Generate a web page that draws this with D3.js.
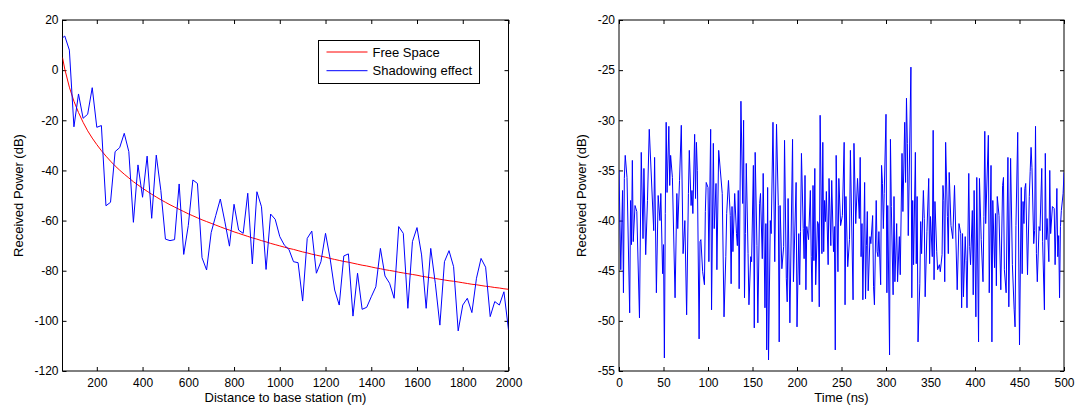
<!DOCTYPE html>
<html><head><meta charset="utf-8">
<script src="https://cdn.jsdelivr.net/npm/d3@7/dist/d3.min.js"></script>
<style>
html,body{margin:0;padding:0;background:#fff;}
svg{display:block;}
text{font-family:"Liberation Sans",Arial,Helvetica,sans-serif;fill:#000;}
</style></head>
<body>
<script>
// ---------- Left chart data ----------
const distance = [50,60,80,100,120,140,160,180,200,220,240,260,280,300,320,340,360,380,400,420,440,460,480,500,520,540,560,580,600,620,640,660,680,700,720,740,760,780,800,820,840,860,880,900,920,940,960,980,1000,1020,1040,1060,1080,1100,1120,1140,1160,1180,1200,1220,1240,1260,1280,1300,1320,1340,1360,1380,1400,1420,1440,1460,1480,1500,1520,1540,1560,1580,1600,1620,1640,1660,1680,1700,1720,1740,1760,1780,1800,1820,1840,1860,1880,1900,1920,1940,1960,1980,2000];
const freeSpace = [5.0,0.4,-6.8,-12.4,-16.9,-20.8,-24.2,-27.1,-29.7,-32.1,-34.3,-36.3,-38.2,-39.9,-41.5,-43.0,-44.5,-45.8,-47.1,-48.3,-49.5,-50.6,-51.7,-52.7,-53.7,-54.6,-55.5,-56.4,-57.3,-58.1,-58.9,-59.7,-60.4,-61.1,-61.8,-62.5,-63.2,-63.8,-64.5,-65.1,-65.7,-66.3,-66.9,-67.4,-68.0,-68.5,-69.1,-69.6,-70.1,-70.6,-71.1,-71.5,-72.0,-72.5,-72.9,-73.4,-73.8,-74.2,-74.6,-75.1,-75.5,-75.9,-76.3,-76.6,-77.0,-77.4,-77.8,-78.1,-78.5,-78.9,-79.2,-79.6,-79.9,-80.2,-80.6,-80.9,-81.2,-81.5,-81.8,-82.2,-82.5,-82.8,-83.1,-83.4,-83.7,-84.0,-84.2,-84.5,-84.8,-85.1,-85.4,-85.6,-85.9,-86.2,-86.4,-86.7,-86.9,-87.2,-87.4];
const shadowing = [12.9,13.6,8.0,-22.6,-9.5,-19.2,-17.6,-7.0,-22.8,-22.1,-54.1,-52.7,-32.5,-30.9,-25.2,-32.5,-60.7,-37.8,-50.7,-34.3,-59.1,-33.9,-48.0,-67.4,-68.0,-67.6,-45.4,-73.5,-62.0,-43.8,-45.2,-74.8,-79.7,-64.8,-58.0,-51.4,-60.5,-70.2,-53.5,-63.8,-65.1,-49.1,-77.3,-48.5,-54.5,-79.5,-57.4,-59.5,-66.4,-69.8,-71.5,-76.4,-76.8,-92.1,-67.1,-64.2,-81.0,-76.4,-65.1,-75.1,-87.7,-93.7,-74.1,-73.3,-98.1,-81.0,-95.4,-94.6,-90.4,-86.4,-71.1,-82.1,-85.0,-91.0,-62.4,-65.1,-95.0,-68.4,-62.8,-73.7,-95.0,-71.1,-85.0,-101.7,-76.4,-72.0,-78.4,-104.0,-93.7,-91.0,-96.7,-83.0,-75.1,-78.6,-98.3,-92.3,-93.7,-88.4,-103.6];
const leftXTicks = [200,400,600,800,1000,1200,1400,1600,1800,2000];
const leftYTicks = [20,0,-20,-40,-60,-80,-100,-120];
const legendLabels = ["Free Space","Shadowing effect"];

// ---------- Right chart data ----------
const timeNs = [0,2,4,5,6,7,9,12,13,14,15,16,18,20,23,25,27,28,30,32,34,39,40,42,44,46,47,49,50,51,52,53,54,56,57,58,60,63,65,66,68,70,72,74,76,78,79,81,82,83,85,86,87,88,90,91,92,94,96,97,98,100,101,103,104,106,107,109,110,112,116,118,120,121,
123,125,126,127,128,130,132,133,134,135,137,139,140,141,142,143,145,146,148,149,151,152,153,155,156,158,159,161,162,164,165,166,167,168,170,171,173,175,177,179,180,181,183,185,186,188,189,190,192,195,196,199,200,202,203,204,205,207,208,209,210,211,213,215,216,217,218,219,220,221,223,224,225,226,228,229,230,231,232,233,235,236,238,239,241,242,243,244,246,247,
249,251,253,254,255,257,259,260,263,264,266,268,270,271,272,273,274,276,277,278,279,280,282,283,285,286,287,289,290,291,292,294,295,296,297,298,300,301,302,304,305,306,308,309,310,312,313,315,316,318,319,321,322,323,324,325,328,329,330,331,333,334,335,336,338,339,340,342,343,344,346,348,349,350,352,353,354,355,357,358,360,361,363,364,365,366,367,369,370,371,
373,375,377,380,382,384,385,386,387,389,390,391,393,394,395,397,398,399,401,402,404,405,407,409,410,411,412,415,416,418,419,420,422,423,424,425,427,429,431,432,433,435,437,438,440,442,444,445,446,448,450,452,453,454,455,456,457,459,461,462,463,464,466,467,468,469,470,472,473,475,476,478,479,480,481,483,484,485,487,489,490,492,493,494,495,496,497,499,500];
const powerDb = [-35.0,-44.9,-37.0,-47.2,-35.8,-33.5,-35.7,-49.2,-38.0,-42.4,-34.0,-42.1,-38.5,-39.1,-49.7,-33.2,-41.8,-34.8,-43.4,-38.0,-30.9,-41.0,-33.7,-47.2,-37.5,-40.0,-37.3,-45.3,-42.4,-53.7,-39.3,-30.2,-37.2,-30.6,-36.5,-33.5,-35.7,-47.7,-37.3,-40.8,-36.0,-30.5,-43.3,-40.0,-49.4,-37.3,-33.0,-38.5,-37.0,-39.3,-31.4,-37.8,-32.2,-35.0,-51.8,-42.1,-41.9,-45.1,-46.4,-39.1,-36.2,-36.7,-44.1,-30.9,-48.9,-32.3,-40.8,-36.3,-44.9,-33.0,-37.3,-49.6,-43.6,-39.3,
-36.0,-39.5,-46.3,-38.6,-43.1,-37.3,-41.3,-42.5,-37.0,-46.8,-28.1,-38.3,-30.0,-47.7,-41.3,-34.3,-43.3,-48.4,-43.6,-44.1,-34.5,-50.7,-33.2,-42.5,-50.2,-38.3,-37.3,-43.8,-35.3,-48.7,-40.3,-52.9,-36.7,-53.9,-40.0,-41.3,-30.2,-44.1,-30.4,-38.5,-52.1,-38.5,-44.8,-42.6,-32.0,-45.8,-48.1,-37.8,-50.2,-31.9,-46.1,-36.2,-50.6,-41.3,-46.4,-41.1,-33.3,-40.8,-43.8,-35.5,-46.9,-40.6,-41.9,-37.0,-43.6,-48.1,-36.5,-44.0,-34.8,-46.4,-40.1,-40.3,-48.6,-29.5,-43.3,-32.2,-43.1,-38.0,-40.1,-37.1,-44.4,-35.8,-42.5,-36.0,-43.1,-40.6,-52.9,-33.5,-45.1,-35.8,
-40.5,-39.5,-32.2,-48.4,-37.6,-44.6,-41.9,-33.0,-47.9,-32.3,-40.3,-35.8,-39.8,-33.7,-43.6,-40.3,-47.9,-36.2,-47.8,-42.5,-39.1,-47.0,-41.6,-42.3,-39.5,-46.6,-48.4,-38.0,-43.1,-43.6,-41.1,-46.4,-34.5,-36.3,-40.8,-37.3,-29.4,-47.2,-38.5,-53.4,-31.9,-38.6,-47.4,-37.6,-46.1,-40.3,-46.1,-41.6,-45.4,-33.3,-39.1,-30.2,-36.2,-27.8,-32.3,-41.5,-24.7,-47.7,-38.0,-44.4,-33.2,-44.3,-37.6,-52.1,-46.3,-40.1,-43.3,-37.0,-39.8,-47.6,-41.1,-35.8,-44.3,-39.6,-43.6,-31.0,-45.9,-38.1,-43.1,-44.9,-44.4,-45.1,-43.4,-36.5,-38.0,-46.1,-32.2,-39.6,-43.3,-35.2,
-40.5,-41.8,-36.5,-46.9,-40.3,-41.3,-48.7,-41.3,-47.6,-41.6,-44.0,-48.7,-35.3,-42.6,-44.4,-39.0,-47.4,-37.0,-49.6,-35.7,-52.1,-35.8,-41.9,-46.1,-39.6,-31.1,-40.3,-31.5,-47.2,-34.5,-52.1,-38.0,-44.7,-39.3,-46.5,-37.6,-39.5,-46.9,-36.5,-35.7,-44.9,-47.2,-33.7,-48.6,-33.8,-44.4,-48.9,-50.6,-40.5,-31.2,-52.4,-36.7,-45.3,-38.1,-40.3,-36.8,-36.3,-45.4,-37.6,-35.1,-32.7,-34.7,-42.3,-41.0,-30.6,-43.3,-46.1,-40.6,-41.0,-34.8,-42.1,-48.9,-33.3,-41.9,-39.8,-44.1,-35.0,-41.3,-38.6,-38.8,-44.4,-36.8,-43.6,-41.5,-47.7,-40.6,-39.0,-37.3,-35.2];
const rightXTicks = [0,50,100,150,200,250,300,350,400,450,500];
const rightYTicks = [-20,-25,-30,-35,-40,-45,-50,-55];

// ---------- Drawing ----------
const W = 1076, H = 405;
const svg = d3.select("body").append("svg").attr("width", W).attr("height", H);
svg.append("rect").attr("width", W).attr("height", H).attr("fill", "#fff");

function panel(cfg) {
  const {x, y, xTicks, yTicks, xTitle, yTitle, yTitleX, id} = cfg;
  const [x0, x1] = x.range();
  const [y0, y1] = y.range(); // y0 bottom, y1 top
  const g = svg.append("g");
  g.append("clipPath").attr("id", id).append("rect")
    .attr("x", x0).attr("y", y1).attr("width", x1 - x0).attr("height", y0 - y1);

  const fmt = d => String(d);
  const tk = 4;
  g.append("g").attr("transform", `translate(0,${y0})`)
    .call(d3.axisBottom(x).tickValues(xTicks).tickSizeInner(-tk).tickSizeOuter(0).tickPadding(7).tickFormat(fmt));
  g.append("g").attr("transform", `translate(0,${y1})`)
    .call(d3.axisTop(x).tickValues(xTicks).tickSizeInner(-tk).tickSizeOuter(0).tickFormat(""));
  g.append("g").attr("transform", `translate(${x0},0)`)
    .call(d3.axisLeft(y).tickValues(yTicks).tickSizeInner(-tk).tickSizeOuter(0).tickPadding(4).tickFormat(fmt));
  g.append("g").attr("transform", `translate(${x1},0)`)
    .call(d3.axisRight(y).tickValues(yTicks).tickSizeInner(-tk).tickSizeOuter(0).tickFormat(""));
  g.selectAll(".domain").remove();
  g.selectAll(".tick line").attr("stroke", "#000").attr("stroke-width", 1);
  g.selectAll(".tick text").attr("font-size", 12).attr("font-family", '"Liberation Sans",Arial,sans-serif').attr("fill", "#000");

  g.append("rect").attr("x", x0).attr("y", y1).attr("width", x1 - x0).attr("height", y0 - y1)
    .attr("fill", "none").attr("stroke", "#000").attr("stroke-width", 1);

  g.append("text").attr("x", (x0 + x1) / 2).attr("y", 402).attr("text-anchor", "middle")
    .attr("font-size", 13).text(xTitle);
  g.append("text").attr("transform", `translate(${yTitleX},${(y0 + y1) / 2}) rotate(-90)`)
    .attr("text-anchor", "middle").attr("font-size", 13).text(yTitle);
  return g.append("g").attr("clip-path", `url(#${id})`);
}

// Left panel
const xL = d3.scaleLinear().domain([50, 2000]).range([62.5, 508.5]);
const yL = d3.scaleLinear().domain([-120, 20]).range([371, 20]);
const gL = panel({x: xL, y: yL, xTicks: leftXTicks, yTicks: leftYTicks,
  xTitle: "Distance to base station (m)", yTitle: "Received Power (dB)", yTitleX: 22.5, id: "clipL"});

const lineL = (vals) => d3.line().x((d, i) => xL(distance[i])).y(d => yL(d))(vals);
gL.append("path").attr("d", lineL(freeSpace)).attr("fill", "none").attr("stroke", "#ff0000").attr("stroke-width", 1);
gL.append("path").attr("d", lineL(shadowing)).attr("fill", "none").attr("stroke", "#0000ff").attr("stroke-width", 1);

// Legend
const lg = svg.append("g").attr("transform", "translate(318.5,40.5)");
lg.append("rect").attr("width", 161).attr("height", 43).attr("fill", "#fff").attr("stroke", "#000").attr("stroke-width", 1);
const legendColors = ["#ff0000", "#0000ff"];
legendLabels.forEach((lab, i) => {
  const yy = 11.5 + i * 18.7;
  lg.append("line").attr("x1", 8).attr("x2", 49).attr("y1", yy).attr("y2", yy)
    .attr("stroke", legendColors[i]).attr("stroke-width", 1);
  lg.append("text").attr("x", 54).attr("y", yy).attr("dy", "0.35em").attr("font-size", 13).text(lab);
});

// Right panel
const xR = d3.scaleLinear().domain([0, 500]).range([619, 1064]);
const yR = d3.scaleLinear().domain([-55, -20]).range([371, 20]);
const gR = panel({x: xR, y: yR, xTicks: rightXTicks, yTicks: rightYTicks,
  xTitle: "Time (ns)", yTitle: "Received Power (dB)", yTitleX: 585.5, id: "clipR"});
gR.append("path")
  .attr("d", d3.line().x((d, i) => xR(timeNs[i])).y(d => yR(d))(powerDb))
  .attr("fill", "none").attr("stroke", "#0000ff").attr("stroke-width", 1);
</script>
</body></html>
